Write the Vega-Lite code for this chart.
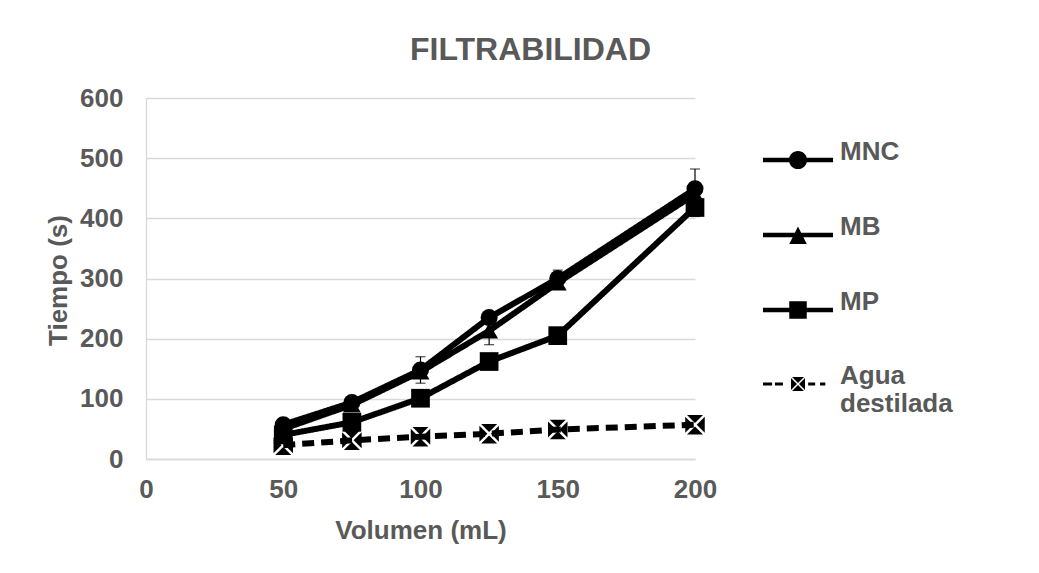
{
  "$schema": "https://vega.github.io/schema/vega-lite/v6.json",
  "autosize": {"type": "none"},
  "width": 549,
  "height": 361,
  "padding": {"left": 146, "top": 98, "right": 344, "bottom": 114},
  "background": "white",
  "config": {
    "font": "Liberation Sans",
    "view": {"stroke": null}
  },
  "title": {
    "text": "FILTRABILIDAD",
    "fontSize": 32,
    "fontWeight": "bold",
    "color": "#595959",
    "anchor": "middle",
    "frame": "group",
    "offset": 18,
    "dx": 110
  },
  "datasets": {
    "series": [
      {"serie": "MNC", "x": 50, "y": 57},
      {"serie": "MNC", "x": 75, "y": 94},
      {"serie": "MNC", "x": 100, "y": 148},
      {"serie": "MNC", "x": 125, "y": 235},
      {"serie": "MNC", "x": 150, "y": 300},
      {"serie": "MNC", "x": 200, "y": 449},
      {"serie": "MB", "x": 50, "y": 50},
      {"serie": "MB", "x": 75, "y": 90},
      {"serie": "MB", "x": 100, "y": 145},
      {"serie": "MB", "x": 125, "y": 213},
      {"serie": "MB", "x": 150, "y": 293},
      {"serie": "MB", "x": 200, "y": 440},
      {"serie": "MP", "x": 50, "y": 40},
      {"serie": "MP", "x": 75, "y": 61},
      {"serie": "MP", "x": 100, "y": 101},
      {"serie": "MP", "x": 125, "y": 162},
      {"serie": "MP", "x": 150, "y": 205},
      {"serie": "MP", "x": 200, "y": 418},
      {"serie": "Agua destilada", "x": 50, "y": 23},
      {"serie": "Agua destilada", "x": 75, "y": 31},
      {"serie": "Agua destilada", "x": 100, "y": 37},
      {"serie": "Agua destilada", "x": 125, "y": 42},
      {"serie": "Agua destilada", "x": 150, "y": 49},
      {"serie": "Agua destilada", "x": 200, "y": 57}
    ],
    "errors": [
      {"serie": "MNC", "x": 200, "lo": 416, "hi": 482},
      {"serie": "MNC", "x": 100, "lo": 126, "hi": 170},
      {"serie": "MB", "x": 125, "lo": 190, "hi": 236},
      {"serie": "MNC", "x": 150, "lo": 287, "hi": 314},
      {"serie": "MP", "x": 200, "lo": 403, "hi": 433}
    ]
  },
  "encoding": {
    "x": {
      "field": "x",
      "type": "quantitative",
      "scale": {"domain": [0, 200], "nice": false},
      "axis": {
        "title": "Volumen (mL)",
        "values": [0, 50, 100, 150, 200],
        "grid": false,
        "ticks": false,
        "domainColor": "#d9d9d9",
        "domainWidth": 1.3,
        "labelFontSize": 26,
        "labelFontWeight": "bold",
        "labelColor": "#595959",
        "labelPadding": 17,
        "labelFlush": false,
        "titleFontSize": 26,
        "titleFontWeight": "bold",
        "titleColor": "#595959",
        "titleY": 71,
        "titleBaseline": "middle"
      }
    },
    "y": {
      "field": "y",
      "type": "quantitative",
      "scale": {"domain": [0, 600], "nice": false},
      "axis": {
        "title": "Tiempo (s)",
        "values": [0, 100, 200, 300, 400, 500, 600],
        "grid": true,
        "gridColor": "#d9d9d9",
        "gridWidth": 1.3,
        "ticks": false,
        "domainColor": "#d9d9d9",
        "domainWidth": 1.3,
        "labelFontSize": 26,
        "labelFontWeight": "bold",
        "labelColor": "#595959",
        "labelPadding": 23,
        "titleFontSize": 26,
        "titleFontWeight": "bold",
        "titleColor": "#595959",
        "titleX": -88,
        "titleY": 182,
        "titleAngle": -90,
        "titleAlign": "center",
        "titleBaseline": "middle"
      }
    }
  },
  "layer": [
    {
      "data": {"name": "series"},
      "mark": {"type": "line", "color": "black"},
      "encoding": {
        "detail": {"field": "serie"},
        "strokeDash": {
          "field": "serie",
          "type": "nominal",
          "scale": {"domain": ["MNC", "MB", "MP", "Agua destilada"], "range": [[1, 0], [1, 0], [1, 0], [12, 7]]},
          "legend": null
        },
        "strokeWidth": {
          "field": "serie",
          "type": "nominal",
          "scale": {"domain": ["MNC", "MB", "MP", "Agua destilada"], "range": [6, 6, 6, 3.5]},
          "legend": null
        }
      }
    },
    {
      "data": {"name": "errors"},
      "mark": {"type": "errorbar", "color": "black", "thickness": 1.2, "ticks": {"size": 10, "thickness": 1.2, "color": "black"}},
      "encoding": {
        "x": {"field": "x", "type": "quantitative"},
        "y": {"field": "lo", "type": "quantitative"},
        "y2": {"field": "hi"}
      }
    },
    {
      "data": {"name": "series"},
      "mark": {"type": "point", "filled": true, "color": "black", "opacity": 1, "strokeWidth": 0},
      "encoding": {
        "shape": {
          "field": "serie",
          "type": "nominal",
          "scale": {
            "domain": ["MNC", "MB", "MP", "Agua destilada"],
            "range": ["circle", "triangle-up", "square", "M-0.82,-1 L0.82,-1 L0,-0.18 Z M-0.82,1 L0.82,1 L0,0.18 Z M-1,-0.82 L-1,0.82 L-0.18,0 Z M1,-0.82 L1,0.82 L0.18,0 Z"]
          },
          "legend": null
        },
        "size": {
          "field": "serie",
          "type": "nominal",
          "scale": {"domain": ["MNC", "MB", "MP", "Agua destilada"], "range": [290, 380, 320, 200]},
          "legend": null
        }
      }
    },
    {
      "data": {"name": "series"},
      "mark": {"type": "point", "filled": true, "color": "black", "opacity": 0},
      "encoding": {
        "shape": {
          "field": "serie",
          "type": "nominal",
          "scale": {
            "domain": ["MNC", "MB", "MP", "Agua destilada"],
            "range": [
              "M-1,-0.065 L1,-0.065 L1,0.065 L-1,0.065 Z M-0.26,0 A0.26,0.26 0 1,1 0.26,0 A0.26,0.26 0 1,1 -0.26,0 Z",
              "M-1,-0.065 L1,-0.065 L1,0.065 L-1,0.065 Z M0,-0.24 L0.25,0.26 L-0.25,0.26 Z",
              "M-1,-0.065 L1,-0.065 L1,0.065 L-1,0.065 Z M-0.25,-0.25 L0.25,-0.25 L0.25,0.25 L-0.25,0.25 Z",
              "M-1,-0.045 L-0.74,-0.045 L-0.74,0.045 L-1,0.045 Z M-0.66,-0.045 L-0.43,-0.045 L-0.43,0.045 L-0.66,0.045 Z M0.29,-0.045 L0.49,-0.045 L0.49,0.045 L0.29,0.045 Z M0.63,-0.045 L0.78,-0.045 L0.78,0.045 L0.63,0.045 Z M-0.17,-0.2 L0.17,-0.2 L0,-0.03 Z M-0.17,0.2 L0.17,0.2 L0,0.03 Z M-0.2,-0.17 L-0.2,0.17 L-0.03,0 Z M0.2,-0.17 L0.2,0.17 L0.03,0 Z"
            ]
          },
          "legend": {
            "title": null,
            "orient": "none",
            "legendX": 617,
            "legendY": 27,
            "padding": 0,
            "symbolSize": 4900,
            "symbolOpacity": 1,
            "symbolFillColor": "black",
            "symbolStrokeWidth": 0,
            "rowPadding": 30,
            "labelOffset": 7,
            "labelFontSize": 26,
            "labelFontWeight": "bold",
            "labelColor": "#595959",
            "labelLimit": 300,
            "labelBaseline": "alphabetic",
            "labelExpr": "datum.label == 'Agua destilada' ? ['Agua', 'destilada'] : datum.label",
            "encode": {
              "labels": {"update": {"dy": {"value": 9}, "lineHeight": {"value": 32}}}
            }
          }
        }
      }
    }
  ],
  "resolve": {"scale": {"shape": "independent"}, "legend": {"shape": "independent"}}
}
